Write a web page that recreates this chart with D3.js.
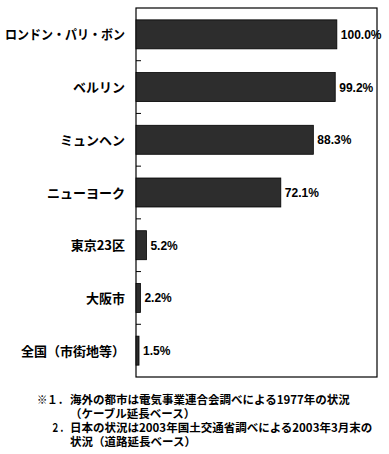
<!DOCTYPE html>
<html>
<head>
<meta charset="utf-8">
<script src="https://cdn.jsdelivr.net/npm/d3@7"></script>
<style>
  body { margin: 0; background: #fff; }
  svg { display: block; }
  .cat { font-family: "Noto Sans CJK JP", sans-serif; font-weight: 700; font-size: 13px; }
  .val { font-family: "Liberation Sans", Arial, sans-serif; font-weight: 700; font-size: 12px; }
  .note { font-family: "Noto Sans CJK JP", sans-serif; font-weight: 700; font-size: 11.5px; }
</style>
</head>
<body>
<svg width="389" height="454"></svg>
<script>
// data
var cities = ["ロンドン・パリ・ボン", "ベルリン", "ミュンヘン", "ニューヨーク", "東京23区", "大阪市", "全国（市街地等）"];
var ratios = [100.0, 99.2, 88.3, 72.1, 5.2, 2.2, 1.5];
var notes = [
  { x: 37, w: 31, text: "※１．" },
  { x: 70, w: 0, text: "海外の都市は電気事業連合会調べによる1977年の状況" },
  { x: 70, w: 0, text: "（ケーブル延長ベース）" },
  { x: 51, w: 17, text: "２．" },
  { x: 70, w: 0, text: "日本の状況は2003年国土交通省調べによる2003年3月末の" },
  { x: 70, w: 0, text: "状況（道路延長ベース）" }
];
var noteRows = [0, 0, 1, 2, 2, 3];

var svg = d3.select("svg");
var plotL = 136, plotR = 377, plotT = 8, plotB = 377;

var x = d3.scaleLinear().domain([0, 120]).range([plotL, plotR]);
var y = d3.scaleBand().domain(cities).range([plotT, plotB])
  .paddingInner(0.45).paddingOuter(0.225);

// frame
svg.append("rect")
  .attr("x", plotL).attr("y", plotT)
  .attr("width", plotR - plotL).attr("height", plotB - plotT)
  .attr("fill", "none").attr("stroke", "#000").attr("stroke-width", 1.2);

// ticks between categories
var bounds = d3.range(1, cities.length).map(function(i) { return plotT + i * y.step(); });
svg.selectAll("line.tick")
  .data(bounds)
  .enter()
  .append("line")
  .attr("x1", plotL).attr("x2", plotL + 5)
  .attr("y1", function(d) { return d; })
  .attr("y2", function(d) { return d; })
  .attr("stroke", "#000");

// bars
svg.selectAll("rect.bar")
  .data(cities)
  .enter()
  .append("rect")
  .attr("x", x(0))
  .attr("y", function(d) { return y(d); })
  .attr("width", function(d, i) { return x(ratios[i]) - x(0); })
  .attr("height", y.bandwidth())
  .attr("fill", "#2d2d2d")
  .attr("stroke", "#000")
  .attr("stroke-width", 0.8);

// value labels
svg.selectAll("text.val")
  .data(cities)
  .enter()
  .append("text")
  .attr("class", "val")
  .attr("x", function(d, i) { return x(ratios[i]) + 4; })
  .attr("y", function(d) { return y(d) + y.bandwidth() / 2 + 4.5; })
  .text(function(d, i) { return ratios[i].toFixed(1) + "%"; });

// category labels (squeeze the long one so it stays on screen)
svg.selectAll("text.cat")
  .data(cities)
  .enter()
  .append("text")
  .attr("class", "cat")
  .attr("x", 125)
  .attr("y", function(d) { return y(d) + y.bandwidth() / 2 + 5; })
  .attr("text-anchor", "end")
  .text(function(d) { return d; })
  .each(function() {
    if (this.getComputedTextLength() > 120) {
      d3.select(this).attr("textLength", 120).attr("lengthAdjust", "spacingAndGlyphs");
    }
  });

// footnote
svg.selectAll("text.note")
  .data(notes)
  .enter()
  .append("text")
  .attr("class", "note")
  .attr("x", function(d) { return d.x; })
  .attr("y", function(d, i) { return 403.5 + noteRows[i] * 14; })
  .text(function(d) { return d.text; })
  .each(function(d) {
    if (d.w) d3.select(this).attr("textLength", d.w).attr("lengthAdjust", "spacingAndGlyphs");
  });
</script>
</body>
</html>
